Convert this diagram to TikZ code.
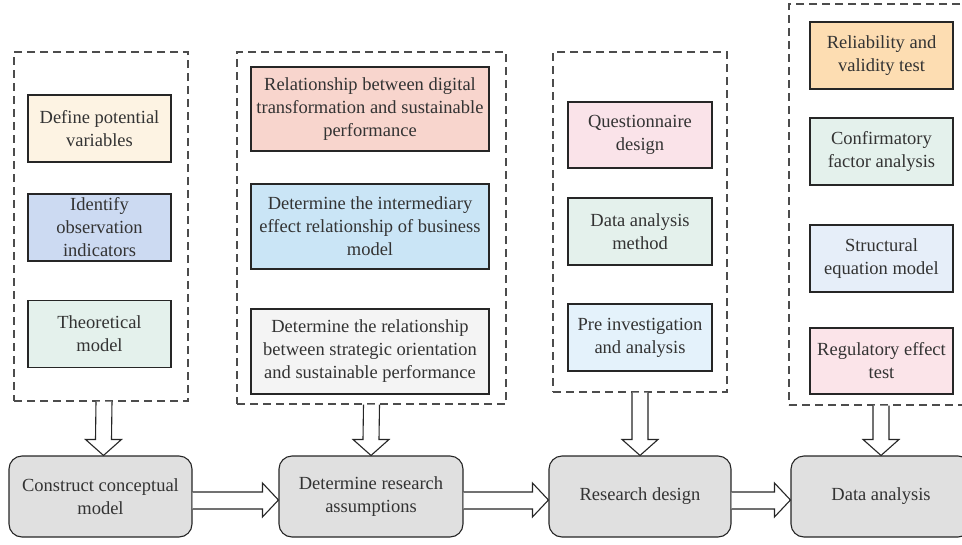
\documentclass[tikz,border=0pt]{standalone}
\usepackage{fontspec}
\setmainfont{Liberation Serif}
\usetikzlibrary{calc}
\definecolor{txt}{HTML}{333333}
\definecolor{cDef}{HTML}{FDF3E3}
\definecolor{cIde}{HTML}{CCDAF2}
\definecolor{cThe}{HTML}{E4F1EC}
\definecolor{cRel}{HTML}{F8D5CD}
\definecolor{cInt}{HTML}{CAE5F6}
\definecolor{cStr}{HTML}{F4F4F4}
\definecolor{cQue}{HTML}{FAE3E9}
\definecolor{cPre}{HTML}{E4F2FB}
\definecolor{cRelia}{HTML}{FDDDB2}
\definecolor{cSem}{HTML}{E6EEF9}
\definecolor{cReg}{HTML}{FBE4E9}
\definecolor{cMain}{HTML}{E0E0E0}
\tikzset{
  txtfont/.style={font=\fontsize{18.5}{23}\selectfont, text=txt, align=center},
  item/.style={txtfont, draw=black!85, line width=1.1pt, inner sep=2pt},
  group/.style={draw=black!70, dash pattern=on 8pt off 5pt, line width=1.2pt, inner sep=0pt},
  mainbox/.style={txtfont, draw=black!85, line width=1.1pt, rounded corners=13pt, fill=cMain, minimum height=81pt, inner sep=2pt},
  harrow/.style={draw=black!85, line width=1.1pt, fill=white, line join=miter}
}
\begin{document}
\begin{tikzpicture}[x=1pt, y=-1pt]
\useasboundingbox (0,0) rectangle (962,544);
% groups
\node[group, minimum width=174pt, minimum height=349pt] (g1) at (101,226.5) {};
\node[group, minimum width=269pt, minimum height=352pt] (g2) at (371.5,228) {};
\node[group, minimum width=174pt, minimum height=340pt] (g3) at (640,222) {};
\node[group, minimum width=184pt, minimum height=401pt] (g4) at (881,204.5) {};
% column 1
\node[item, fill=cDef, minimum width=143pt, minimum height=67pt] (a1) at (99.5,128.5) {Define potential\\variables};
\node[item, fill=cIde, minimum width=143pt, minimum height=67pt] (a2) at (99.5,227.5) {Identify\\observation\\indicators};
\node[item, fill=cThe, minimum width=143pt, minimum height=67pt] (a3) at (99.5,334) {Theoretical\\model};
% column 2
\node[item, fill=cRel, minimum width=238pt, minimum height=84pt] (b1) at (370,109) {Relationship between digital\\transformation and sustainable\\performance};
\node[item, fill=cInt, minimum width=238pt, minimum height=85pt] (b2) at (370,226.5) {Determine the intermediary\\effect relationship of business\\model};
\node[item, fill=cStr, minimum width=238pt, minimum height=85pt] (b3) at (370,351.5) {Determine the relationship\\between strategic orientation\\and sustainable performance};
% column 3
\node[item, fill=cQue, minimum width=144pt, minimum height=66pt] (d1) at (640,135) {Questionnaire\\design};
\node[item, fill=cThe, minimum width=144pt, minimum height=67pt] (d2) at (640,231.5) {Data analysis\\method};
\node[item, fill=cPre, minimum width=144pt, minimum height=67pt] (d3) at (640,337.5) {Pre investigation\\and analysis};
% column 4
\node[item, fill=cRelia, minimum width=143pt, minimum height=67pt] (e1) at (881.5,55.5) {Reliability and\\validity test};
\node[item, fill=cThe, minimum width=143pt, minimum height=67pt] (e2) at (881.5,151.5) {Confirmatory\\factor analysis};
\node[item, fill=cSem, minimum width=143pt, minimum height=67pt] (e3) at (881.5,258.5) {Structural\\equation model};
\node[item, fill=cReg, minimum width=143pt, minimum height=66pt] (e4) at (881.5,361) {Regulatory effect\\test};
% main row
\node[mainbox, minimum width=183pt] (c1) at (100.5,496.5) {Construct conceptual\\model};
\node[mainbox, minimum width=184pt] (c2) at (371,496.5) {Determine research\\assumptions};
\node[mainbox, minimum width=182pt] (c3) at (640,496.5) {Research design};
\node[mainbox, minimum width=180pt] (c4) at (881,496.5) {Data analysis};
% down hollow arrows
\foreach \g/\c/\dx in {g1/c1/3, g2/c2/0, g3/c3/0, g4/c4/0} {
  \draw[harrow] ($(\g.south)+(\dx-8,0)$) -- ($(\c.north)+(\dx-8,-16)$) -- ($(\c.north)+(\dx-18,-16)$) -- ($(\c.north)+(\dx,0)$) -- ($(\c.north)+(\dx+18,-16)$) -- ($(\c.north)+(\dx+8,-16)$) -- ($(\g.south)+(\dx+8,0)$);
}
% right hollow arrows
\foreach \a/\b in {c1/c2, c2/c3, c3/c4} {
  \draw[harrow] ($(\a.east)+(0,-4.5)$) -- ($(\b.west)+(-16,-4.5)$) -- ($(\b.west)+(-16,-13.5)$) -- ($(\b.west)+(0,3.5)$) -- ($(\b.west)+(-16,20.5)$) -- ($(\b.west)+(-16,12.5)$) -- ($(\a.east)+(0,12.5)$);
}
\end{tikzpicture}
\end{document}
